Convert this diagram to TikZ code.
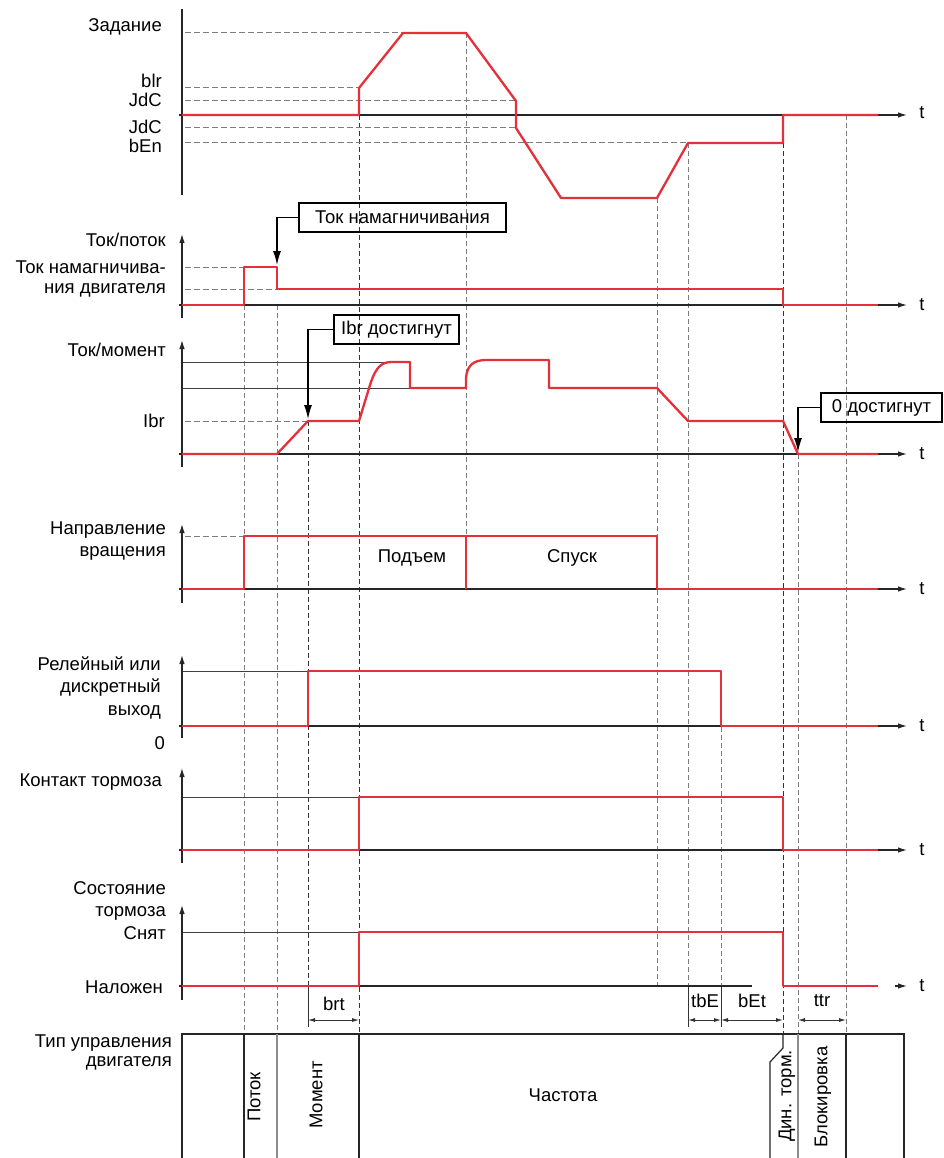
\documentclass[tikz,border=0pt]{standalone}
\usepackage{fontspec}
\setmainfont{Liberation Sans}
\usetikzlibrary{arrows.meta}
\definecolor{sigred}{RGB}{228,48,58}
\definecolor{guidegray}{RGB}{125,125,125}
\begin{document}
\begin{tikzpicture}[x=1pt,y=-1pt,
  every node/.style={font=\fontsize{18.5}{21}\selectfont, inner sep=0pt},
  sig/.style={draw=sigred, line width=2.3pt, line join=round},
  ax/.style={draw=black!85, line width=1.2pt},
  axarr/.style={ax, -{Latex[length=9pt,width=5.5pt]}},
  guide/.style={draw=guidegray, line width=1pt, dash pattern=on 5pt off 3pt},
  guidek/.style={draw=black!80, line width=1pt, dash pattern=on 5pt off 3pt},
  lvl/.style={draw=guidegray, line width=1pt, dash pattern=on 6pt off 3pt},
  thinl/.style={draw=black!75, line width=0.9pt},
  lab/.style={anchor=east},
  callout/.style={draw=black, line width=1.2pt, minimum height=29pt, inner sep=0pt},
  callarr/.style={draw=black, line width=1.2pt, -{Latex[length=14pt,width=8pt]}},
  dimarr/.style={draw=black!80, line width=0.9pt, {Latex[length=7pt,width=4pt]}-{Latex[length=7pt,width=4pt]}},
  ext/.style={draw=black!80, line width=0.9pt},
  boxl/.style={draw=black!85, line width=1.2pt},
  boxg/.style={draw=black!45, line width=1.2pt},
]
\fill[white] (0,0) rectangle (943,1158);
\useasboundingbox (0,0) rectangle (943,1158);

% ---------- vertical guide lines ----------
\draw[guide]  (244,305) -- (244,1034);
\draw[guide]  (277,305) -- (277,1034);
\draw[guidek] (308,421) -- (308,986);
\draw[ext]    (308,986) -- (308,1027);
\draw[guidek] (359,115) -- (359,1034);
\draw[guide]  (466,33)  -- (466,536);
\draw[guide]  (657,198) -- (657,986);
\draw[guide]  (688,143) -- (688,986);
\draw[ext]    (688,986) -- (688,1027);
\draw[guide]  (721,671) -- (721,986);
\draw[ext]    (721,986) -- (721,1027);
\draw[guidek] (783,143) -- (783,1034);
\draw[guide]  (798,454) -- (798,1034);
\draw[guide]  (846,115) -- (846,1034);

% ---------- level lines ----------
\draw[lvl] (185,33)  -- (403,33);
\draw[lvl] (185,88)  -- (359,88);
\draw[lvl] (185,101) -- (516,101);
\draw[lvl] (185,128) -- (516,128);
\draw[lvl] (185,143) -- (688,143);
\draw[lvl] (185,267) -- (244,267);
\draw[lvl] (185,289) -- (277,289);
\draw[lvl] (185,421) -- (308,421);
\draw[lvl] (185,536) -- (244,536);
\draw[thinl] (182,362) -- (392,362);
\draw[thinl] (182,388) -- (410,388);
\draw[thinl] (182,671) -- (308,671);
\draw[thinl] (182,797) -- (359,797);
\draw[thinl] (182,932) -- (359,932);

% ---------- axes ----------
\draw[ax]    (182,9)    -- (182,195);
\draw[axarr] (179,115)  -- (907,115);
\draw[axarr] (182,318)  -- (182,234);
\draw[axarr] (179,305)  -- (907,305);
\draw[axarr] (182,467)  -- (182,340);
\draw[axarr] (179,454)  -- (907,454);
\draw[axarr] (182,603)  -- (182,524);
\draw[axarr] (179,589)  -- (907,589);
\draw[axarr] (182,738)  -- (182,655);
\draw[axarr] (179,726)  -- (907,726);
\draw[axarr] (182,863)  -- (182,768);
\draw[axarr] (179,850)  -- (907,850);
\draw[axarr] (182,1000) -- (182,905);
\draw[ax]    (179,986)  -- (752,986);
\draw[axarr] (895,986)  -- (907,986);

\foreach \yy/\nm in {113/a,305/b,454/c,589/d,726/e,850/f,986/g}
  \node (t\nm) at (922,\yy) {t};

% ---------- signals ----------
\draw[sig] (182,115) -- (359,115) -- (359,88) -- (403,33) -- (466,33) -- (516,101)
  -- (516,128) -- (561,198) -- (657,198) -- (688,143) -- (783,143) -- (783,115) -- (878,115);
\draw[sig] (182,305) -- (244,305) -- (244,267) -- (277,267) -- (277,289) -- (783,289)
  -- (783,305) -- (878,305);
\draw[sig] (182,454) -- (277,454) -- (308,421) -- (359,421) -- (370,385)
  .. controls (376,366) and (382,362) .. (392,362) -- (410,362) -- (410,388) -- (466,388)
  -- (466,378) .. controls (467,365) and (474,360) .. (486,360) -- (549,360) -- (549,388)
  -- (657,388) -- (688,421) -- (783,421) -- (798,454) -- (878,454);
\draw[sig] (182,589) -- (244,589) -- (244,536) -- (657,536) -- (657,589) -- (878,589);
\draw[sig, line width=1.6pt] (466,536) -- (466,589);
\draw[sig] (182,726) -- (308,726) -- (308,671) -- (721,671) -- (721,726) -- (878,726);
\draw[sig] (182,850) -- (359,850) -- (359,797) -- (783,797) -- (783,850) -- (878,850);
\draw[sig] (182,986) -- (359,986) -- (359,932) -- (783,932) -- (783,986) -- (878,986);

% ---------- callouts ----------
\node[callout, minimum width=207pt] (cbA) at (402.5,217.5) {Ток намагничивания};
\coordinate (tipA) at (277,265);
\draw[callarr] (cbA.west) -| (tipA);
\node[callout, minimum width=125pt] (cbB) at (396.5,329.5) {Ibr достигнут};
\coordinate (tipB) at (308,419);
\draw[callarr] (cbB.west) -| (tipB);
\node[callout, minimum width=121pt] (cbC) at (881.5,407.5) {0 достигнут};
\coordinate (tipC) at (798,452);
\draw[callarr] (cbC.west) -| (tipC);

% ---------- dimensions ----------
\draw[dimarr] (308,1020) -- (359,1020);
\node (brt) at (334,1004) {brt};
\draw[dimarr] (688,1020) -- (721,1020);
\node (tbE) at (705,1001) {tbE};
\draw[dimarr] (721,1020) -- (783,1020);
\node (bEt) at (752,1001) {bEt};
\draw[dimarr] (798,1020) -- (846,1020);
\node (ttr) at (822,1001) {ttr};

% ---------- motor control box ----------
\draw[boxl] (182,1158) -- (182,1034) -- (904,1034) -- (904,1158);
\draw[boxl] (244,1034) -- (244,1158);
\draw[boxg] (277,1034) -- (277,1158);
\draw[boxl] (359,1034) -- (359,1158);
\draw[boxl] (783,1034) -- (783,1048) -- (770,1062) -- (770,1158);
\draw[boxg] (798,1034) -- (798,1158);
\draw[boxl] (846,1034) -- (846,1158);
\node[rotate=90] (mPotok) at (254,1097) {Поток};
\node[rotate=90] (mMom) at (316,1095) {Момент};
\node (mFreq) at (563,1095) {Частота};
\node[rotate=90] (mDin) at (787,1096) {Дин. торм.};
\node[rotate=90] (mBlk) at (823,1097) {Блокировка};

% ---------- panel texts ----------
\node (pZad) at (412,558) {Подъем};
\node (pSpusk) at (572,558) {Спуск};

% ---------- left labels ----------
\node[lab] (l1)  at (162,27)   {Задание};
\node[lab] (l2)  at (162,81)   {blr};
\node[lab] (l3)  at (162,100)  {JdC};
\node[lab] (l4)  at (162,127)  {JdC};
\node[lab] (l5)  at (162,146)  {bEn};
\node[lab] (l6)  at (166,240)  {Ток/поток};
\node[lab] (l7)  at (166,267)  {Ток намагничива-};
\node[lab] (l8)  at (166,290)  {ния двигателя};
\node[lab] (l9)  at (166,350)  {Ток/момент};
\node[lab] (l10) at (165,421)  {Ibr};
\node[lab] (l11) at (166,530)  {Направление};
\node[lab] (l12) at (166,553)  {вращения};
\node[lab] (l13) at (161,664)  {Релейный или};
\node[lab] (l14) at (161,688)  {дискретный};
\node[lab] (l15) at (161,712)  {выход};
\node[lab] (l16) at (165,743)  {0};
\node[lab] (l17) at (162,782)  {Контакт тормоза};
\node[lab] (l18) at (166,888)  {Состояние};
\node[lab] (l19) at (166,913)  {тормоза};
\node[lab] (l20) at (166,933)  {Снят};
\node[lab] (l21) at (163,987)  {Наложен};
\node[lab] (l22) at (172,1043) {Тип управления};
\node[lab] (l23) at (172,1063) {двигателя};
\end{tikzpicture}
\end{document}
